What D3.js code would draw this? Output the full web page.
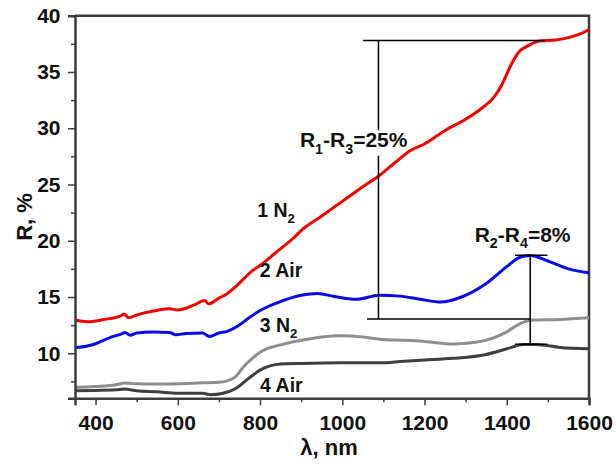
<!DOCTYPE html>
<html>
<head>
<meta charset="utf-8">
<script src="https://cdn.jsdelivr.net/npm/d3@7"></script>
<style>
  html, body { margin: 0; padding: 0; background: #fff; }
  svg { display: block; font-family: "Liberation Sans", Arial, sans-serif; font-weight: bold; }
</style>
</head>
<body>
<div id="chart"></div>
<script>
// Reflectance spectra, 4 samples (annealed in N2 / Air)

const curve1N2 = [
  [350, 12.95], [380, 12.8], [420, 13.0], [460, 13.3], [470, 13.5], [480, 13.15],
  [500, 13.4], [540, 13.75], [580, 13.95], [600, 13.85], [640, 14.3], [665, 14.7],
  [675, 14.4], [700, 14.9], [720, 15.3], [740, 15.9], [760, 16.6], [780, 17.3],
  [800, 17.8], [840, 19.0], [880, 20.2], [900, 20.9], [950, 22.2], [1000, 23.5],
  [1050, 24.8], [1090, 25.8], [1130, 27.0], [1165, 28.0], [1200, 28.6], [1250, 29.8],
  [1300, 30.8], [1340, 31.8], [1370, 32.8], [1390, 34.0], [1410, 35.6], [1430, 36.8],
  [1450, 37.3], [1480, 37.75], [1520, 37.85], [1550, 38.05], [1580, 38.4], [1600, 38.75]
];

const curve2Air = [
  [350, 10.5], [380, 10.65], [400, 10.85], [435, 11.4], [465, 11.75], [472, 11.85],
  [484, 11.6], [500, 11.8], [540, 11.9], [580, 11.85], [595, 11.65], [620, 11.75],
  [660, 11.8], [677, 11.5], [700, 11.8], [720, 11.95], [745, 12.4], [775, 13.2],
  [800, 13.8], [850, 14.6], [900, 15.15], [940, 15.32], [980, 15.05], [1035, 14.8],
  [1090, 15.15], [1140, 15.08], [1190, 14.8], [1240, 14.55], [1290, 15.0], [1350, 16.2],
  [1400, 17.7], [1430, 18.5], [1457, 18.7], [1500, 18.2], [1550, 17.5], [1600, 17.15]
];

const curve3N2 = [
  [350, 6.98], [400, 7.05], [450, 7.2], [470, 7.35], [500, 7.3], [550, 7.27],
  [600, 7.3], [660, 7.38], [700, 7.42], [720, 7.55], [740, 7.9], [760, 8.8],
  [780, 9.5], [800, 10.1], [850, 10.75], [900, 11.15], [950, 11.45], [1000, 11.55],
  [1050, 11.45], [1100, 11.22], [1150, 11.15], [1200, 11.05], [1270, 10.82], [1320, 10.95],
  [1370, 11.4], [1400, 11.9], [1430, 12.6], [1465, 12.95], [1530, 13.0], [1600, 13.15]
];

const curve4Air = [
  [350, 6.67], [400, 6.7], [450, 6.75], [470, 6.82], [500, 6.68], [550, 6.58],
  [600, 6.45], [660, 6.44], [680, 6.32], [710, 6.45], [740, 6.85], [770, 7.7],
  [800, 8.5], [850, 9.05], [900, 9.1], [1000, 9.15], [1090, 9.15], [1150, 9.3],
  [1200, 9.4], [1270, 9.55], [1350, 9.9], [1400, 10.4], [1440, 10.78], [1470, 10.78],
  [1530, 10.52], [1600, 10.4]
];

const xTicks = [400, 600, 800, 1000, 1200, 1400, 1600];
const xMinorTicks = [500, 700, 900, 1100, 1300, 1500];
const yTicks = [10, 15, 20, 25, 30, 35, 40];
const yMinorTicks = [7.5, 12.5, 17.5, 22.5, 27.5, 32.5, 37.5];

// curve labels: [x nm, R at baseline, main text, subscript]
const curveLabels = [
  [793, 22.1, '1 N', '2'],
  [799, 16.8, '2 Air', ''],
  [799, 11.9, '3 N', '2'],
  [800, 6.6, '4 Air', '']
];

// brackets between curves
const bracket13 = { x: 1088, top: 37.8, bottom: 13.05, topFrom: 1050, topTo: 1493, botFrom: 1060, botTo: 1457 };
const bracket24 = { x: 1457, top: 18.72, bottom: 10.8, capFrom: 1420, capTo: 1499 };

const W = 616, H = 466;
const x = d3.scaleLinear().domain([350, 1600]).range([75, 589]);
const y = d3.scaleLinear().domain([6, 40]).range([398.3, 15.7]);

const svg = d3.select('#chart').append('svg').attr('width', W).attr('height', H);

const axisColor = '#3c3c3c';

// frame (top + right)
svg.append('path')
  .attr('d', `M${x(350)},${y(40)}H${x(1600)}V${y(6)}`)
  .attr('fill', 'none').attr('stroke', axisColor).attr('stroke-width', 2.5);

// curves
const line = d3.line().x(d => x(d[0])).y(d => y(d[1])).curve(d3.curveMonotoneX);
const series = [
  [curve4Air, '#3f3f3f'],
  [curve3N2, '#8e8e8e'],
  [curve2Air, '#0a0ae6'],
  [curve1N2, '#f20000']
];
series.forEach(([data, color]) => {
  svg.append('path').datum(data)
    .attr('d', line)
    .attr('fill', 'none')
    .attr('stroke', color)
    .attr('stroke-width', 3)
    .attr('stroke-linejoin', 'round');
});

// label with subscripts: parts = [[text, isSub], ...]
function label(g, px, py, parts, size) {
  const t = g.append('text').attr('x', px).attr('y', py)
    .attr('font-size', size).attr('fill', '#111');
  let shift = 0;
  parts.filter(p => p[0]).forEach(([s, sub]) => {
    const ts = t.append('tspan').text(s);
    if (sub) { ts.attr('font-size', size * 0.68).attr('dy', size * 0.3 - shift); shift = size * 0.3; }
    else { ts.attr('dy', -shift); shift = 0; }
  });
  return t;
}

const lg = svg.append('g');
const lab13 = label(lg, x(897), y(28.3), [['R', 0], ['1', 1], ['-R', 0], ['3', 1], ['=25%', 0]], 21);
label(lg, x(1322), y(19.9), [['R', 0], ['2', 1], ['-R', 0], ['4', 1], ['=8%', 0]], 21);

curveLabels.forEach(([nm, r, main, sub]) => {
  label(lg, x(nm), y(r), [[main, 0], [sub, 1]], 19.5);
});

// bracket R1-R3 (vertical line broken around its label)
const gap = lab13.node().getBBox();
const bk = svg.append('g').attr('stroke', '#000').attr('stroke-width', 1.5);
bk.append('line').attr('x1', x(bracket13.topFrom)).attr('x2', x(bracket13.topTo))
  .attr('y1', y(bracket13.top)).attr('y2', y(bracket13.top));
bk.append('line').attr('x1', x(bracket13.botFrom)).attr('x2', x(bracket13.botTo))
  .attr('y1', y(bracket13.bottom)).attr('y2', y(bracket13.bottom));
bk.append('line').attr('x1', x(bracket13.x)).attr('x2', x(bracket13.x))
  .attr('y1', y(bracket13.top)).attr('y2', gap.y + 2);
bk.append('line').attr('x1', x(bracket13.x)).attr('x2', x(bracket13.x))
  .attr('y1', gap.y + gap.height - 1).attr('y2', y(bracket13.bottom));

// bracket R2-R4
bk.append('line').attr('x1', x(bracket24.capFrom)).attr('x2', x(bracket24.capTo))
  .attr('y1', y(bracket24.top)).attr('y2', y(bracket24.top));
bk.append('line').attr('x1', x(bracket24.capFrom)).attr('x2', x(bracket24.capTo))
  .attr('y1', y(bracket24.bottom)).attr('y2', y(bracket24.bottom));
bk.append('line').attr('x1', x(bracket24.x)).attr('x2', x(bracket24.x))
  .attr('y1', y(bracket24.top)).attr('y2', y(bracket24.bottom));

// axes
const tickFont = 21;
const xAxis = svg.append('g').attr('transform', `translate(0,${y(6)})`);
xAxis.call(d3.axisBottom(x).tickValues(xTicks).tickSize(7).tickPadding(9.5).tickFormat(d3.format('d')));
const xMinor = svg.append('g').attr('transform', `translate(0,${y(6)})`);
xMinor.call(d3.axisBottom(x).tickValues(xMinorTicks).tickSize(4).tickFormat(''));

const yAxis = svg.append('g').attr('transform', `translate(${x(350)},0)`);
yAxis.call(d3.axisLeft(y).tickValues(yTicks).tickSize(7).tickPadding(7.5));
const yMinor = svg.append('g').attr('transform', `translate(${x(350)},0)`);
yMinor.call(d3.axisLeft(y).tickValues(yMinorTicks).tickSize(4).tickFormat(''));

[xAxis, xMinor, yAxis, yMinor].forEach(a => {
  a.select('.domain').attr('stroke', axisColor).attr('stroke-width', 2.5);
  a.selectAll('.tick line').attr('stroke', axisColor).attr('stroke-width', 1.5);
  a.selectAll('.tick text').attr('fill', '#111').attr('font-size', tickFont)
    .attr('font-family', '"Liberation Sans", Arial, sans-serif').attr('font-weight', 'bold');
});
xMinor.select('.domain').remove();
yMinor.select('.domain').remove();

// axis titles
svg.append('text')
  .attr('x', 329).attr('y', 455)
  .attr('text-anchor', 'middle').attr('font-size', 22).attr('fill', '#111')
  .text('λ, nm');

svg.append('text')
  .attr('transform', `translate(32,${217}) rotate(-90)`)
  .attr('text-anchor', 'middle').attr('font-size', 22).attr('fill', '#111')
  .text('R, %');
</script>
</body>
</html>
